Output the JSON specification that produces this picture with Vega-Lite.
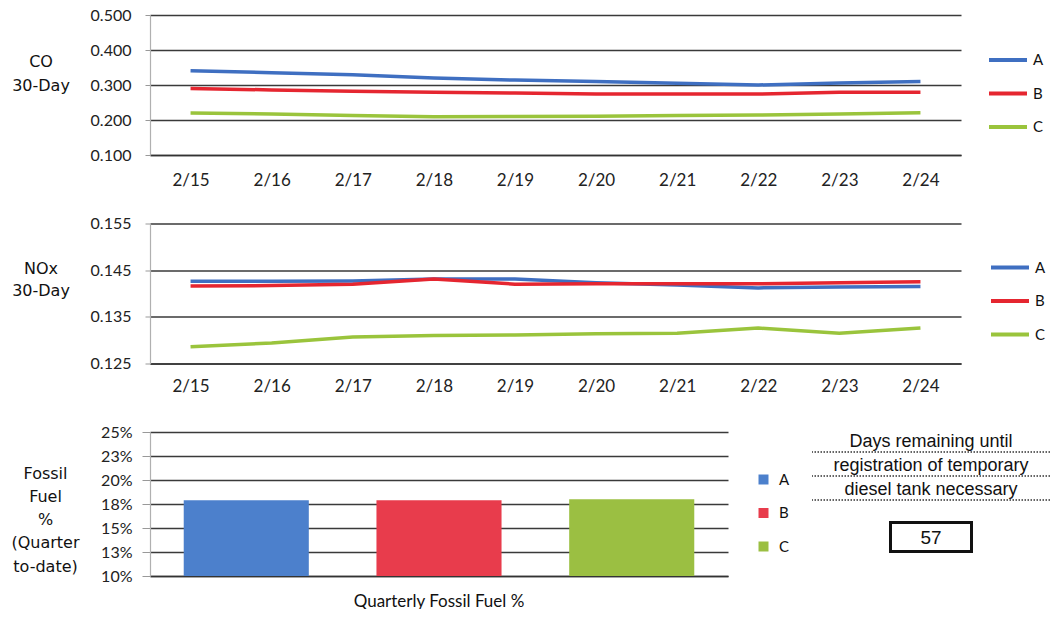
{
  "$schema": "https://vega.github.io/schema/vega-lite/v6.json",
  "background": "white",
  "padding": {"left": 10, "top": 7, "right": 0, "bottom": 0},
  "bounds": "flush",
  "spacing": 68.5,
  "config": {
    "font": "Lato",
    "view": {"stroke": null},
    "axis": {
      "labelFont": "Lato",
      "labelColor": "#222",
      "titleFont": "DejaVu Sans",
      "titleFontWeight": "normal",
      "titleColor": "#111",
      "titleAngle": 0,
      "titleAlign": "center",
      "titleBaseline": "top",
      "titleLineHeight": 22,
      "titleFontSize": 16
    },
    "axisY": {
      "domainColor": "#b0b0b0",
      "domainWidth": 1.2,
      "tickColor": "#999",
      "tickSize": 5,
      "labelPadding": 14,
      "labelFontSize": 16,
      "gridColor": "#3a3a3a",
      "gridWidth": 1.3
    },
    "axisX": {
      "domainColor": "#333",
      "domainWidth": 1.3,
      "ticks": false,
      "grid": false,
      "labelAngle": 0
    },
    "legend": {
      "labelFont": "Lato",
      "labelFontSize": 15,
      "labelColor": "#111",
      "title": null
    }
  },
  "datasets": {
    "co": [
      {"date": "2/15", "series": "A", "value": 0.341},
      {"date": "2/16", "series": "A", "value": 0.335},
      {"date": "2/17", "series": "A", "value": 0.329},
      {"date": "2/18", "series": "A", "value": 0.320},
      {"date": "2/19", "series": "A", "value": 0.314},
      {"date": "2/20", "series": "A", "value": 0.310},
      {"date": "2/21", "series": "A", "value": 0.305},
      {"date": "2/22", "series": "A", "value": 0.300},
      {"date": "2/23", "series": "A", "value": 0.306},
      {"date": "2/24", "series": "A", "value": 0.310},
      {"date": "2/15", "series": "B", "value": 0.290},
      {"date": "2/16", "series": "B", "value": 0.286},
      {"date": "2/17", "series": "B", "value": 0.282},
      {"date": "2/18", "series": "B", "value": 0.279},
      {"date": "2/19", "series": "B", "value": 0.277},
      {"date": "2/20", "series": "B", "value": 0.274},
      {"date": "2/21", "series": "B", "value": 0.274},
      {"date": "2/22", "series": "B", "value": 0.274},
      {"date": "2/23", "series": "B", "value": 0.279},
      {"date": "2/24", "series": "B", "value": 0.279},
      {"date": "2/15", "series": "C", "value": 0.220},
      {"date": "2/16", "series": "C", "value": 0.217},
      {"date": "2/17", "series": "C", "value": 0.213},
      {"date": "2/18", "series": "C", "value": 0.209},
      {"date": "2/19", "series": "C", "value": 0.210},
      {"date": "2/20", "series": "C", "value": 0.211},
      {"date": "2/21", "series": "C", "value": 0.213},
      {"date": "2/22", "series": "C", "value": 0.214},
      {"date": "2/23", "series": "C", "value": 0.217},
      {"date": "2/24", "series": "C", "value": 0.221}
    ],
    "nox": [
      {"date": "2/15", "series": "A", "value": 0.1426},
      {"date": "2/16", "series": "A", "value": 0.1426},
      {"date": "2/17", "series": "A", "value": 0.1427},
      {"date": "2/18", "series": "A", "value": 0.1431},
      {"date": "2/19", "series": "A", "value": 0.1431},
      {"date": "2/20", "series": "A", "value": 0.1423},
      {"date": "2/21", "series": "A", "value": 0.1418},
      {"date": "2/22", "series": "A", "value": 0.1412},
      {"date": "2/23", "series": "A", "value": 0.1414},
      {"date": "2/24", "series": "A", "value": 0.1415},
      {"date": "2/15", "series": "B", "value": 0.1416},
      {"date": "2/16", "series": "B", "value": 0.1417},
      {"date": "2/17", "series": "B", "value": 0.1420},
      {"date": "2/18", "series": "B", "value": 0.1431},
      {"date": "2/19", "series": "B", "value": 0.1420},
      {"date": "2/20", "series": "B", "value": 0.1421},
      {"date": "2/21", "series": "B", "value": 0.1421},
      {"date": "2/22", "series": "B", "value": 0.1421},
      {"date": "2/23", "series": "B", "value": 0.1423},
      {"date": "2/24", "series": "B", "value": 0.1425},
      {"date": "2/15", "series": "C", "value": 0.1286},
      {"date": "2/16", "series": "C", "value": 0.1294},
      {"date": "2/17", "series": "C", "value": 0.1307},
      {"date": "2/18", "series": "C", "value": 0.1310},
      {"date": "2/19", "series": "C", "value": 0.1311},
      {"date": "2/20", "series": "C", "value": 0.1314},
      {"date": "2/21", "series": "C", "value": 0.1315},
      {"date": "2/22", "series": "C", "value": 0.1326},
      {"date": "2/23", "series": "C", "value": 0.1315},
      {"date": "2/24", "series": "C", "value": 0.1326}
    ],
    "fossil": [
      {"category": "Quarterly Fossil Fuel %", "series": "A", "pct": 17.9},
      {"category": "Quarterly Fossil Fuel %", "series": "B", "pct": 17.9},
      {"category": "Quarterly Fossil Fuel %", "series": "C", "pct": 18.0}
    ],
    "notice": [
      {"line": 1, "kind": "label", "text": "Days remaining until"},
      {"line": 2, "kind": "label", "text": "registration of temporary"},
      {"line": 3, "kind": "label", "text": "diesel tank necessary"},
      {"line": 5, "kind": "value", "text": "57"}
    ]
  },
  "resolve": {
    "scale": {"color": "independent", "x": "independent", "y": "independent"},
    "legend": {"color": "independent"}
  },
  "vconcat": [
    {
      "width": 811,
      "height": 140,
      "data": {"name": "co"},
      "mark": {"type": "line", "strokeWidth": 3.5},
      "encoding": {
        "x": {
          "field": "date", "type": "ordinal", "sort": null,
          "scale": {"type": "point", "padding": 0.5},
          "axis": {"title": null, "labelPadding": 17, "labelFontSize": 17}
        },
        "y": {
          "field": "value", "type": "quantitative",
          "scale": {"domain": [0.1, 0.5], "zero": false, "nice": false},
          "axis": {
            "values": [0.1, 0.2, 0.3, 0.4, 0.5], "format": ".3f",
            "title": ["CO", "30-Day"], "titleX": -109.5, "titleY": 38, "titleLineHeight": 24
          }
        },
        "color": {
          "field": "series", "type": "nominal",
          "scale": {"domain": ["A", "B", "C"], "range": ["#3f6fc1", "#e52630", "#9ac43c"]},
          "legend": {
            "orient": "none", "legendX": 837, "legendY": 24,
            "symbolType": "stroke", "symbolSize": 1444, "symbolStrokeWidth": 4,
            "rowPadding": 4.5, "labelOffset": 4
          }
        }
      }
    },
    {
      "width": 811,
      "height": 140,
      "data": {"name": "nox"},
      "mark": {"type": "line", "strokeWidth": 3.5},
      "encoding": {
        "x": {
          "field": "date", "type": "ordinal", "sort": null,
          "scale": {"type": "point", "padding": 0.5},
          "axis": {"title": null, "labelPadding": 15, "labelFontSize": 17}
        },
        "y": {
          "field": "value", "type": "quantitative",
          "scale": {"domain": [0.125, 0.155], "zero": false, "nice": false},
          "axis": {
            "values": [0.125, 0.135, 0.145, 0.155], "format": ".3f",
            "title": ["NOx", "30-Day"], "titleX": -109.5, "titleY": 37, "titleLineHeight": 22
          }
        },
        "color": {
          "field": "series", "type": "nominal",
          "scale": {"domain": ["A", "B", "C"], "range": ["#3f6fc1", "#e52630", "#9ac43c"]},
          "legend": {
            "orient": "none", "legendX": 839, "legendY": 23,
            "symbolType": "stroke", "symbolSize": 1444, "symbolStrokeWidth": 4,
            "rowPadding": 4.5, "labelOffset": 4
          }
        }
      }
    },
    {
      "bounds": "flush",
      "spacing": 84,
      "resolve": {
        "scale": {"color": "independent", "x": "independent", "y": "independent"},
        "legend": {"color": "independent"}
      },
      "hconcat": [
        {
          "width": 578,
          "height": 144,
          "data": {"name": "fossil"},
          "mark": {"type": "bar"},
          "encoding": {
            "x": {
              "field": "category", "type": "nominal",
              "scale": {"paddingInner": 0, "paddingOuter": 0},
              "axis": {"title": null, "labelPadding": 17, "labelFontSize": 17, "labelColor": "#111"}
            },
            "xOffset": {
              "field": "series", "type": "nominal",
              "scale": {"paddingInner": 0.351, "paddingOuter": 0.175}
            },
            "y": {
              "field": "pct", "type": "quantitative",
              "scale": {"domain": [10, 25], "zero": false, "nice": false},
              "axis": {
                "values": [10, 12.5, 15, 17.5, 20, 22.5, 25],
                "labelExpr": "round(datum.value) + '%'",
                "tickSize": 8, "labelPadding": 10,
                "title": ["Fossil", "Fuel", "%", "(Quarter", "to-date)"],
                "titleX": -105, "titleY": 33, "titleFontSize": 16, "titleLineHeight": 23.3
              }
            },
            "y2": {"datum": 10},
            "color": {
              "field": "series", "type": "nominal",
              "scale": {"domain": ["A", "B", "C"], "range": ["#4c80cc", "#e83c4c", "#9bbf42"]},
              "legend": {
                "orient": "none", "legendX": 606, "legendY": 40,
                "symbolType": "square", "symbolSize": 100,
                "rowPadding": 17.5, "labelOffset": 8
              }
            }
          }
        },
        {
          "width": 238,
          "height": 144,
          "data": {"name": "notice"},
          "encoding": {
            "y": {
              "field": "line", "type": "ordinal",
              "scale": {"type": "band", "domain": [1, 2, 3, 4, 5, 6], "paddingInner": 0, "paddingOuter": 0},
              "axis": null
            }
          },
          "layer": [
            {
              "transform": [{"filter": "datum.kind === 'label'"}],
              "mark": {"type": "rule", "strokeDash": [1.5, 1.5], "strokeWidth": 1.6, "color": "#333", "yOffset": -4},
              "encoding": {
                "y": {
                  "field": "line", "type": "ordinal", "bandPosition": 1,
                  "scale": {"type": "band", "domain": [1, 2, 3, 4, 5, 6], "paddingInner": 0, "paddingOuter": 0},
                  "axis": null
                }
              }
            },
            {
              "transform": [{"filter": "datum.kind === 'label'"}],
              "mark": {"type": "text", "font": "Liberation Sans", "fontSize": 18, "color": "#111", "baseline": "middle", "dy": -2},
              "encoding": {"text": {"field": "text"}}
            },
            {
              "transform": [{"filter": "datum.kind === 'value'"}],
              "mark": {
                "type": "point", "shape": "M-1,-0.358H1V0.358H-1Z", "size": 6561,
                "filled": false, "color": "#111", "strokeWidth": 3, "opacity": 1, "yOffset": -3
              }
            },
            {
              "transform": [{"filter": "datum.kind === 'value'"}],
              "mark": {"type": "text", "font": "Liberation Sans", "fontSize": 19, "color": "#111", "baseline": "middle", "dy": -2},
              "encoding": {"text": {"field": "text"}}
            }
          ]
        }
      ]
    }
  ]
}
